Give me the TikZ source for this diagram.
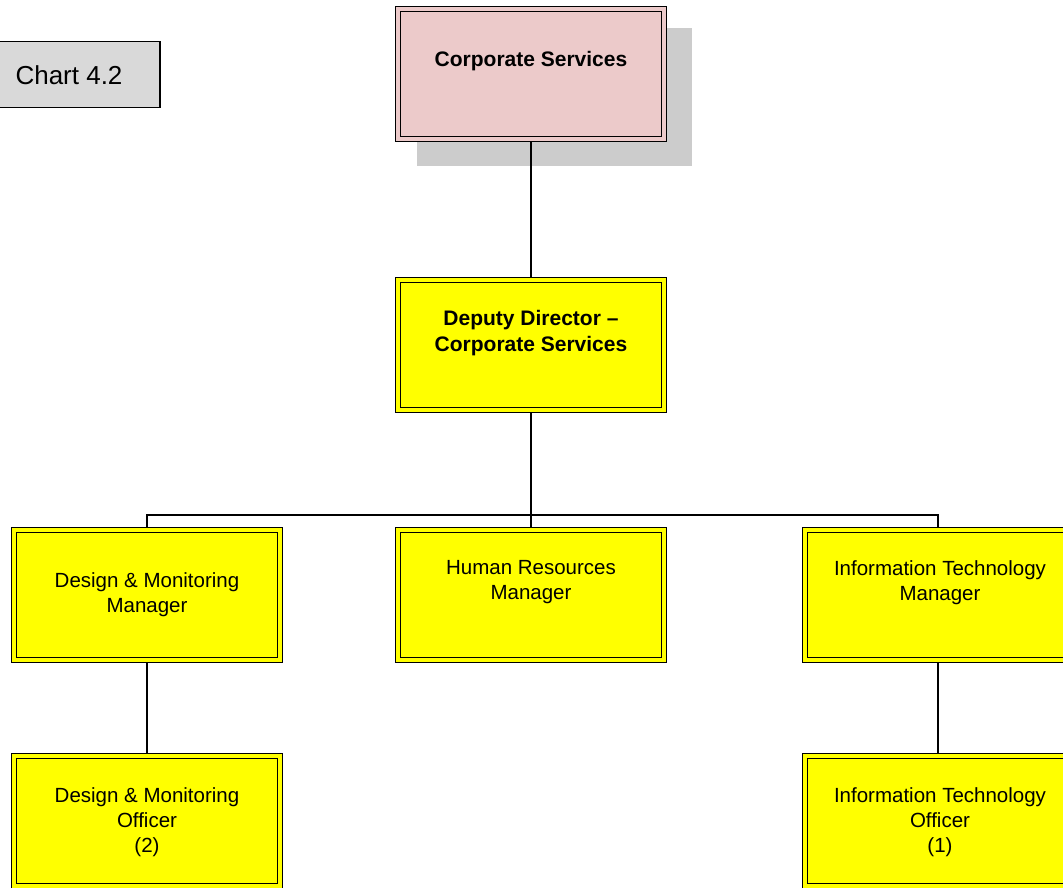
\documentclass[tikz,border=0pt]{standalone}
\usepackage{fontspec}
\setmainfont{Liberation Sans}
\pgfdeclarelayer{background}
\pgfsetlayers{background,main}
\definecolor{postyellow}{HTML}{FFFF00}
\definecolor{headpink}{HTML}{ECCACA}
\definecolor{shadowgray}{HTML}{CCCCCC}
\definecolor{tabgray}{HTML}{D9D9D9}
\begin{document}
\begin{tikzpicture}[x=1pt,y=-1pt,
  postbox/.style={rectangle, draw=black, double=#1, fill=#1,
    line width=1.7pt, double distance=3.2pt,
    minimum width=266pt, minimum height=130pt, inner sep=0pt},
  postbox/.default=postyellow,
  posttext/.style={align=center, inner sep=0pt,
    font=\fontsize{20.5}{25}\selectfont},
  headtext/.style={align=center, inner sep=0pt,
    font=\fontsize{21}{26}\selectfont\bfseries},
  link/.style={draw=black, line width=1.4pt}]
\useasboundingbox (0,0) rectangle (1063,888);
\clip (0,0) rectangle (1063,888);

% chart tab
\node[draw=black, fill=tabgray, line width=1.5pt, minimum width=166pt,
  minimum height=66pt, inner sep=0pt] (tab) at (77,74.5) {};
\node[inner sep=0pt, font=\fontsize{26}{30}\selectfont] (tabtext) at (69,75) {Chart 4.2};

% boxes
\node[postbox=headpink] (corp) at (531,74) {};
\node[postbox] (dep) at (531,345) {};
\node[postbox] (dmm) at (147,595) {};
\node[postbox] (hr)  at (531,595) {};
\node[postbox] (itm) at (938,595) {};
\node[postbox] (dmo) at (147,821) {};
\node[postbox] (ito) at (938,821) {};

% texts
\node[headtext] (corptext) at (531,61) {Corporate Services};
\node[headtext] (deptext) at (531,333) {Deputy Director --\\Corporate Services};
\node[posttext] (dmmtext) at (147,595) {Design \& Monitoring\\Manager};
\node[posttext] (hrtext) at (531,582.5) {Human Resources\\Manager};
\node[posttext] (itmtext) at (940,582.5) {Information Technology\\Manager};
\node[posttext] (dmotext) at (147,822) {Design \& Monitoring\\Officer\\(2)};
\node[posttext] (itotext) at (940,822) {Information Technology\\Officer\\(1)};

% shadow and connectors, under the boxes
\coordinate (bus) at (531,515);
\begin{pgfonlayer}{background}
  \fill[shadowgray] (417,28) rectangle (692,166);
  \draw[link] (corp.south) -- (dep.north);
  \draw[link, line width=2.2pt] (dep.south) -- (bus);
  \draw[link] (bus) -- (hr.north);
  \draw[link] (dmm.north) |- (bus) -| (itm.north);
  \draw[link] (dmm.south) -- (dmo.north);
  \draw[link] (itm.south) -- (ito.north);
\end{pgfonlayer}
\end{tikzpicture}
\end{document}
